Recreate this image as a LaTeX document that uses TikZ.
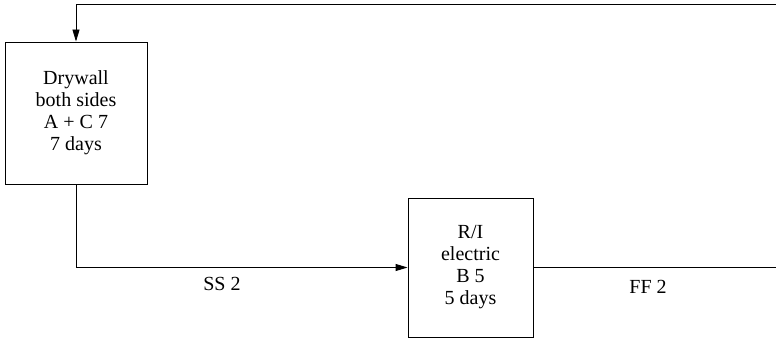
\documentclass[tikz,border=0pt]{standalone}
\usepackage{fontspec}
\setmainfont{Liberation Serif}
\usetikzlibrary{arrows.meta,positioning,calc}
\tikzset{
  tev/.style={draw,line width=0.9pt,align=center,inner sep=2pt,
    font=\fontsize{20}{22}\selectfont},
  kapcs/.style={line width=0.9pt},
  nyil/.style={kapcs,-{Triangle[length=12pt,width=7pt]}},
  cimke/.style={font=\fontsize{20}{22}\selectfont},
}
\begin{document}
\begin{tikzpicture}[x=1pt,y=-1pt]
  \path[use as bounding box] (0,0) rectangle (776,339);
  \clip (0,0) rectangle (776,339);
  \node[tev,minimum width=142pt,minimum height=142pt] (drywall) at (76,113)
    {Drywall\\both sides\\A + C 7\\7 days};
  \node[tev,minimum width=125pt,minimum height=139pt] (electric) at (470.5,267.5)
    {R/I\\electric\\B 5\\5 days};
  \coordinate (jobb) at (790,4);
  % SS kapcsolat
  \draw[nyil] (drywall.south) |- (electric.west)
    node[cimke,pos=0.72,below=6pt] (ss) {SS 2};
  % FF kapcsolat, a kepen kivul fordul vissza
  \draw[nyil] (electric.east) -- (electric.east -| jobb) -- (jobb)
    -| (drywall.north);
  \node[cimke] (ff) at (648,287) {FF 2};
\end{tikzpicture}
\end{document}
